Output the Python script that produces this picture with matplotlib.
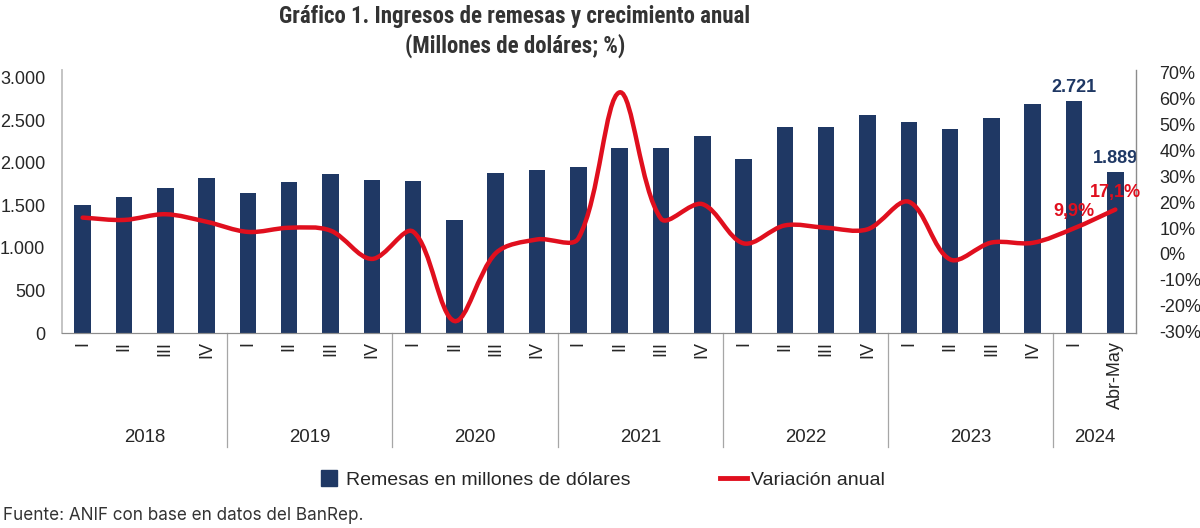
import numpy as np
import matplotlib
matplotlib.use("Agg")
import matplotlib.pyplot as plt
from matplotlib import font_manager
from matplotlib.font_manager import FontProperties
from matplotlib.path import Path
from matplotlib.patches import PathPatch
from matplotlib.lines import Line2D
import matplotlib.transforms as mtransforms

# --- data -----------------------------------------------------------------
quarters = ["I", "II", "III", "IV"] * 6 + ["I", "Abr-May"]
years = ["2018", "2019", "2020", "2021", "2022", "2023", "2024"]
year_sizes = [4, 4, 4, 4, 4, 4, 2]

remesas = [1505, 1602, 1707, 1824, 1644, 1770, 1863, 1801,
           1789, 1328, 1875, 1918, 1949, 2168, 2168, 2309,
           2043, 2414, 2414, 2563, 2473, 2399, 2528, 2688,
           2721, 1889]
variacion = [14.0, 13.1, 15.3, 12.4, 8.5, 10.1, 9.0, -1.9,
             8.6, -25.8, 0.3, 5.6, 6.0, 62.2, 13.6, 19.2,
             4.1, 11.0, 10.1, 9.5, 20.1, -2.1, 4.4, 4.3,
             9.9, 17.1]

left_ticks = [0, 500, 1000, 1500, 2000, 2500, 3000]
right_ticks = [-30, -20, -10, 0, 10, 20, 30, 40, 50, 60, 70]

NAVY = "#1F3864"
RED = "#E00F1E"
GRAY_TXT = "#262626"

installed = {f.name for f in font_manager.fontManager.ttflist}
body_font = "Liberation Sans" if "Liberation Sans" in installed else "DejaVu Sans"
note_font = "Inter" if "Inter" in installed else body_font
plt.rcParams["font.family"] = [body_font, "DejaVu Sans"]

# condensed bold face for the title, if one is around
title_fp = FontProperties(family=body_font, weight="bold")
for fam in ["Liberation Sans Narrow", "Roboto Condensed", "Open Sans Condensed",
            "Noto Sans", "Roboto", "Open Sans", "DejaVu Sans"]:
    if fam not in installed:
        continue
    fp = FontProperties(family=fam, weight="bold", stretch="condensed")
    path = font_manager.findfont(fp, fallback_to_default=False)
    if "ondensed" in path or "Narrow" in path:
        title_fp = fp
        break

fig = plt.figure(figsize=(12, 5.28), dpi=100)
W, H = 1200, 528
ax = fig.add_axes([62 / W, 1 - 333 / H, (1136 - 62) / W, (333 - 70) / H])
ax2 = ax.twinx()

x = np.arange(len(remesas))
ax.bar(x, remesas, width=0.40, color=NAVY, zorder=2)
ax.set_xlim(-0.5, len(remesas) - 0.5)
ax.set_ylim(0, 3000 * 263 / 255.5)
ax.set_yticks(left_ticks)
ax.set_yticklabels([f"{v:,}".replace(",", ".") for v in left_ticks])

ax2.set_ylim(-30.4, 70.8)
ax2.set_yticks(right_ticks)
ax2.set_yticklabels([f"{v}%" for v in right_ticks])

# smooth line drawn as bezier path through the data points
# (tangent scaled by neighbouring segment lengths, measured in pixels)
px_x, px_y = 41.3, 2.6
pts = np.column_stack([x, variacion]).astype(float)
n = len(pts)
scr = pts * [px_x, px_y]
seg = np.hypot(*np.diff(scr, axis=0).T)
verts = [tuple(pts[0])]
codes = [Path.MOVETO]
for i in range(n - 1):
    p1, p2 = pts[i], pts[i + 1]
    if i == 0:
        c1 = p1 + (p2 - p1) / 3.0
    else:
        m1 = pts[i + 1] - pts[i - 1]
        c1 = p1 + m1 * seg[i] / (seg[i - 1] + seg[i]) / 3.0
    if i + 2 > n - 1:
        c2 = p2 - (p2 - p1) / 3.0
    else:
        m2 = pts[i + 2] - pts[i]
        c2 = p2 - m2 * seg[i] / (seg[i] + seg[i + 1]) / 3.0
    verts += [tuple(c1), tuple(c2), tuple(p2)]
    codes += [Path.CURVE4] * 3
ax2.add_patch(PathPatch(Path(verts, codes), facecolor="none", edgecolor=RED,
                        lw=3.2, capstyle="round", zorder=3))

# data labels
ax.text(x[-2], remesas[-2] + 60, "2.721", ha="center", va="bottom",
        color=NAVY, fontsize=13, fontweight="bold")
ax.text(x[-1], remesas[-1] + 60, "1.889", ha="center", va="bottom",
        color=NAVY, fontsize=13, fontweight="bold")
ax2.text(x[-2], variacion[-2] + 3.2, "9,9%", ha="center", va="bottom",
         color=RED, fontsize=13, fontweight="bold")
ax2.text(x[-1], variacion[-1] + 3.2, "17,1%", ha="center", va="bottom",
         color=RED, fontsize=13, fontweight="bold")

# axes styling
for a in (ax, ax2):
    a.spines["top"].set_visible(False)
    a.spines["left"].set_color("#BFBFBF")
    a.spines["right"].set_color("#8C8C8C")
    a.spines["bottom"].set_color("#8C8C8C")
    a.spines["left"].set_linewidth(1.3)
    a.spines["right"].set_linewidth(1.0)
ax.spines["right"].set_visible(False)
ax2.spines["left"].set_visible(False)

ax.tick_params(axis="y", length=0, pad=12, labelsize=13, labelcolor=GRAY_TXT)
ax2.tick_params(axis="y", length=0, pad=17, labelsize=13, labelcolor=GRAY_TXT)
ax.set_xticks(x)
ax.set_xticklabels(quarters, rotation=90, va="top", ha="center")
ax.tick_params(axis="x", length=0, pad=6, labelsize=13, labelcolor=GRAY_TXT)

# year level of the category axis
trans = mtransforms.blended_transform_factory(ax.transData, ax.transAxes)
start = 0
for i, (yr, sz) in enumerate(zip(years, year_sizes)):
    mid = start + (sz - 1) / 2
    ax.text(mid, -(437 - 333) / 263, yr, transform=trans, ha="center",
            va="center", fontsize=13.4, color=GRAY_TXT)
    if i > 0:
        ax.add_line(Line2D([start - 0.5, start - 0.5], [0, -(447 - 333) / 263],
                           transform=trans, color="#A6A6A6", lw=0.9,
                           clip_on=False))
    start += sz

# legend
handles = [Line2D([], [], marker="s", linestyle="none", markersize=11,
                  color=NAVY),
           Line2D([], [], color=RED, lw=3.5)]
fig.legend(handles, ["Remesas en millones de dólares", "Variación anual"],
           loc="center", bbox_to_anchor=(600 / W, 1 - 480 / H), ncol=2,
           frameon=False, fontsize=14, handlelength=1.4, handletextpad=0.2,
           columnspacing=4.6, labelcolor=GRAY_TXT)

# titles, fitted to the reference width
t1 = fig.text(515 / W, 1 - 17 / H, "Gráfico 1. Ingresos de remesas y crecimiento anual",
              ha="center", va="center", fontproperties=title_fp, color="#333333")
t2 = fig.text(515 / W, 1 - 46 / H, "(Millones de doláres; %)",
              ha="center", va="center", fontproperties=title_fp, color="#333333")
t1.set_fontsize(16)
t2.set_fontsize(16)
renderer = fig.canvas.get_renderer()
w1 = t1.get_window_extent(renderer=renderer).width
size = min(16 * 470 / w1, 19)
t1.set_fontsize(size)
t2.set_fontsize(size)

fig.text(3 / W, 1 - 516 / H, "Fuente: ANIF con base en datos del BanRep.",
         ha="left", va="center", fontsize=12.3, family=note_font,
         color="#333333")

fig.savefig("out.png", dpi=100)
